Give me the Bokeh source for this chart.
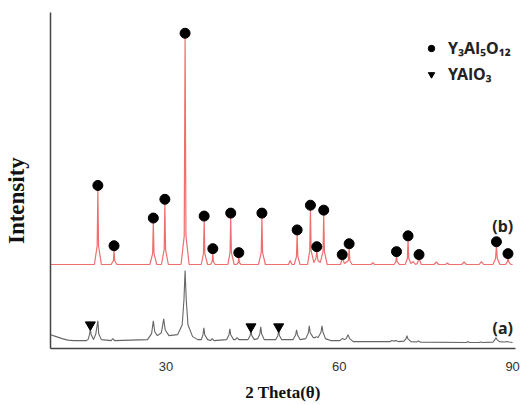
from bokeh.plotting import figure
from bokeh.models import Range1d, FixedTicker, Legend, LegendItem, Label
from bokeh.embed import file_html
from bokeh.resources import INLINE

# ---------------- data (2θ in degrees, intensity in arbitrary units) ----------------
# pattern (b): vertices of the red trace
two_theta_b = [10.0,
               17.6, 18.08, 18.2, 18.32, 18.8,
               20.5, 20.9, 21.0, 21.1, 21.5,
               27.2, 27.68, 27.8, 27.92, 28.4,
               29.2, 29.68, 29.8, 29.92, 30.4,
               32.6, 33.15, 33.3, 33.45, 34.0,
               36.1, 36.48, 36.6, 36.72, 37.2,
               37.7, 38.0, 38.1, 38.2, 38.5,
               40.7, 41.08, 41.2, 41.32, 41.8,
               42.2, 42.5, 42.6, 42.7, 43.0,
               46.0, 46.48, 46.6, 46.72, 47.2,
               51.2, 51.5, 51.8,
               52.2, 52.58, 52.7, 52.82, 53.2,
               54.5, 54.88, 55.0, 55.12, 55.6,
               55.95, 56.1, 56.3, 56.7,
               57.18, 57.3, 57.42, 57.9,
               60.2, 60.5, 60.9,
               61.58, 61.7, 61.82, 62.2,
               65.5, 65.8, 66.1,
               69.5, 69.8, 69.9, 70.0, 70.4,
               71.4, 71.78, 71.9, 72.02, 72.4,
               72.8, 73.2,
               73.5, 73.8, 74.2,
               76.4, 76.8, 77.2,
               78.4, 78.7, 79.0,
               81.2, 81.6, 82.0,
               84.2, 84.6, 85.0,
               86.6, 87.05, 87.2, 87.35, 87.8,
               88.8, 89.1, 89.2, 89.3, 89.7,
               90.0]
intensity_b = [86,
               86, 105, 162, 105, 86,
               86, 90, 101, 90, 86,
               86, 97, 129, 97, 86,
               86, 101, 148, 101, 86,
               86, 115, 316, 115, 86,
               86, 97, 131, 97, 86,
               86, 89, 98, 89, 86,
               86, 98, 134, 98, 86,
               86, 88, 94, 88, 86,
               86, 98, 134, 98, 86,
               86, 90, 86,
               86, 94, 117, 94, 86,
               86, 100, 142, 100, 88,
               92, 100, 90, 88,
               99, 137, 99, 86,
               86, 92, 87,
               90, 103, 90, 86,
               86, 88, 86,
               86, 89, 95, 89, 86,
               86, 92, 111, 92, 87,
               89, 86,
               87, 92, 86,
               86, 88.5, 86,
               86, 87.5, 86,
               86, 88.5, 86,
               86, 89, 86,
               86, 92, 105, 92, 86,
               86, 89, 93, 89, 86,
               86]

# pattern (a): vertices of the grey trace
two_theta_a = [10.0, 11.0, 12.0, 13.0, 14.0, 16.2,
               16.5, 16.75, 16.9, 17.05, 17.45,
               17.85, 18.2, 18.35, 18.8,
               20.5, 20.8, 21.1,
               26.8, 27.5, 27.8, 28.05, 28.5,
               29.2, 29.6, 29.85, 30.5, 32.0,
               32.8, 33.1, 33.3, 33.5, 33.8, 34.6, 35.5,
               36.1, 36.4, 36.55, 36.7, 37.2,
               37.7, 38.0, 38.3,
               40.5, 40.9, 41.05, 41.2, 41.7,
               42.0, 42.3, 42.6,
               44.2, 44.55, 44.7, 44.85, 45.3,
               45.9, 46.25, 46.4, 46.55, 47.0,
               49.0, 49.35, 49.5, 49.65, 50.0,
               52.0, 52.45, 52.6, 52.75, 53.2,
               54.2, 54.65, 54.8, 54.95, 55.5,
               55.8, 56.0, 56.3,
               56.6, 56.85, 57.0, 57.15, 57.6, 58.5,
               60.1, 60.5, 60.9,
               61.2, 61.5, 61.8, 62.4,
               68.8, 69.1, 69.4, 69.8, 70.2,
               71.2, 71.55, 71.7, 71.85, 72.4,
               73.4, 73.7, 74.0,
               82.0, 82.2, 82.5,
               84.2, 84.5, 84.8,
               86.6, 86.95, 87.1, 87.3, 87.7,
               88.6, 89.0, 89.4, 90.0]
intensity_a = [15, 13, 11, 9.5, 9, 9,
               10, 15, 20, 15, 10,
               16, 29, 16, 10,
               9, 11, 9,
               10, 16, 29, 18, 14,
               17, 31, 20, 14, 15,
               25, 50, 80, 50, 25, 13, 10,
               10, 15, 22, 15, 10,
               9, 11, 9,
               10, 15, 21, 15, 10,
               10, 12, 10,
               10, 14, 19, 14, 10,
               11, 16, 23, 16, 10,
               10, 14, 19, 14, 10,
               10, 15, 20, 15, 10,
               11, 17, 24, 17, 12,
               12, 13, 12,
               15, 18, 24, 18, 11, 9,
               9, 11, 10,
               11, 15, 11, 8,
               8, 9, 8.5, 9, 8,
               8.5, 11, 14, 11, 8,
               7.5, 8.5, 7.5,
               7, 8, 7,
               7, 7.5, 7,
               7.5, 10, 12, 10, 8,
               7.5, 8, 7.5, 7]

# Y3Al5O12 reflections marked on pattern (b)
yag_two_theta = [18.2, 21.0, 27.8, 29.8, 33.3, 36.6, 38.1, 41.2, 42.6, 46.6, 52.7,
                 55.0, 56.1, 57.3, 60.5, 61.7, 69.9, 71.9, 73.8, 87.2, 89.2]
yag_marker_y = [166, 105, 133, 152, 320, 135, 102, 138, 98, 138, 121,
                146, 104, 141, 96, 107, 99, 115, 96, 109, 97]

# YAlO3 reflections marked on pattern (a)
yap_two_theta = [16.9, 44.7, 49.5]
yap_marker_y = [25, 23, 23]

x_ticks = [30, 60, 90]

# ---------------- figure ----------------
p = figure(width=528, height=404, output_backend="svg", toolbar_location=None,
           x_range=Range1d(10, 90.5), y_range=Range1d(1, 341),
           min_border_left=49, min_border_right=13, min_border_top=12, min_border_bottom=55)
p.outline_line_color = None
p.xgrid.visible = False
p.ygrid.visible = False
p.background_fill_color = "white"
p.border_fill_color = "white"

p.line(two_theta_a, intensity_a, line_color="#666666", line_width=1.1)
p.line(two_theta_b, intensity_b, line_color="#ef6e6e", line_width=1.2)

p.scatter(yag_two_theta, yag_marker_y, marker="circle", size=10, color="black")
p.scatter(yap_two_theta, yap_marker_y, marker="inverted_triangle", size=10, color="black")

# legend glyphs (not drawn in the data area)
leg_c = p.scatter([float("nan")], [float("nan")], marker="circle", size=12, color="black")
leg_t = p.scatter([float("nan")], [float("nan")], marker="inverted_triangle", size=13, color="black")
legend = Legend(items=[LegendItem(label="Y₃Al₅O₁₂", renderers=[leg_c]),
                       LegendItem(label="YAlO₃", renderers=[leg_t])],
                location=(373, 263), padding=0, margin=0, spacing=4,
                glyph_width=16, glyph_height=20, label_height=20, label_standoff=9,
                border_line_color=None, background_fill_alpha=0,
                label_text_font="Noto Sans", label_text_font_style="bold",
                label_text_font_size="16px", label_text_color="#222222")
p.add_layout(legend)

for txt, yy in (("(b)", 125), ("(a)", 22)):
    p.add_layout(Label(x=88.3, y=yy, text=txt, text_font="Noto Sans",
                       text_font_style="bold", text_font_size="16px",
                       text_color="#222222", text_align="center", text_baseline="middle"))

# axes
p.xaxis.ticker = FixedTicker(ticks=x_ticks)
p.xaxis.major_tick_line_color = None
p.xaxis.minor_tick_line_color = None
p.xaxis.major_tick_out = 0
p.xaxis.major_tick_in = 0
p.xaxis.major_label_standoff = 13
p.xaxis.major_label_text_font = "Liberation Sans"
p.xaxis.major_label_text_font_size = "13px"
p.xaxis.major_label_text_color = "#333333"
p.xaxis.axis_line_color = "#444444"
p.xaxis.axis_line_width = 1.5
p.xaxis.axis_label = "2 Theta(θ)"
p.xaxis.axis_label_text_font = "Liberation Serif"
p.xaxis.axis_label_text_font_style = "bold"
p.xaxis.axis_label_text_font_size = "17px"
p.xaxis.axis_label_text_color = "#111111"
p.xaxis.axis_label_standoff = 9

p.yaxis.ticker = FixedTicker(ticks=[])
p.yaxis.major_tick_line_color = None
p.yaxis.minor_tick_line_color = None
p.yaxis.major_label_text_font_size = "0px"
p.yaxis.axis_line_color = "#444444"
p.yaxis.axis_line_width = 1.5
p.yaxis.axis_label = "Intensity" + "\u00a0" * 7
p.yaxis.axis_label_text_font = "Liberation Serif"
p.yaxis.axis_label_text_font_style = "bold"
p.yaxis.axis_label_text_font_size = "23px"
p.yaxis.axis_label_text_color = "#111111"
p.yaxis.axis_label_standoff = 22

open("out.html", "w").write(file_html(p, INLINE))
